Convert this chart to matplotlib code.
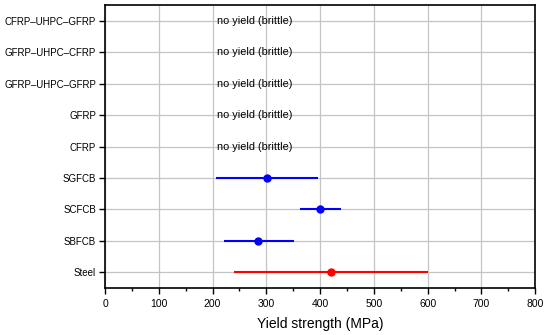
import matplotlib
matplotlib.use("Agg")
import matplotlib.pyplot as plt
from matplotlib.ticker import MultipleLocator

plt.rcParams["font.family"] = ["Liberation Sans", "DejaVu Sans"]

labels = ["Steel", "SBFCB", "SCFCB", "SGFCB", "CFRP", "GFRP",
          "GFRP\u2013UHPC\u2013GFRP", "GFRP\u2013UHPC\u2013CFRP", "CFRP\u2013UHPC\u2013GFRP"]
means = [420, 285, 400, 302]
lows = [240, 221, 362, 207]
highs = [600, 351, 439, 397]
colors = ["red", "blue", "blue", "blue"]
brittle = ["CFRP", "GFRP", "GFRP\u2013UHPC\u2013GFRP", "GFRP\u2013UHPC\u2013CFRP", "CFRP\u2013UHPC\u2013GFRP"]
brittle_x = 208

fig = plt.figure(figsize=(5.5, 3.35), dpi=100)
ax = fig.add_axes([0.191, 0.140, 0.782, 0.845])

ypos = {lab: i for i, lab in enumerate(labels)}
for i in range(len(means)):
    ax.hlines(i, lows[i], highs[i], color=colors[i], lw=1.5, zorder=3)
    ax.plot(means[i], i, "o", color=colors[i], ms=5, zorder=4)

for lab in brittle:
    ax.text(brittle_x, ypos[lab], "no yield (brittle)", va="center", ha="left", fontsize=7.8, zorder=5)

ax.set_xlim(0, 800)
ax.set_ylim(-0.5, len(labels) - 0.5)
ax.set_yticks(range(len(labels)))
ax.set_yticklabels(labels)
ax.xaxis.set_major_locator(MultipleLocator(100))
ax.xaxis.set_minor_locator(MultipleLocator(50))
ax.grid(True, color="#c4c4c4", lw=0.9, zorder=0)
ax.set_axisbelow(True)
ax.tick_params(axis="x", which="major", labelsize=7.5, direction="out", length=4, width=1)
ax.tick_params(axis="y", which="major", labelsize=7.0, direction="out", length=4, width=1, pad=2.5)
ax.tick_params(axis="x", which="minor", direction="out", length=2.5, width=1)
for s in ax.spines.values():
    s.set_linewidth(1.2)
ax.set_xlabel("Yield strength (MPa)", fontsize=10, labelpad=6)

fig.savefig("out.png", dpi=100)
